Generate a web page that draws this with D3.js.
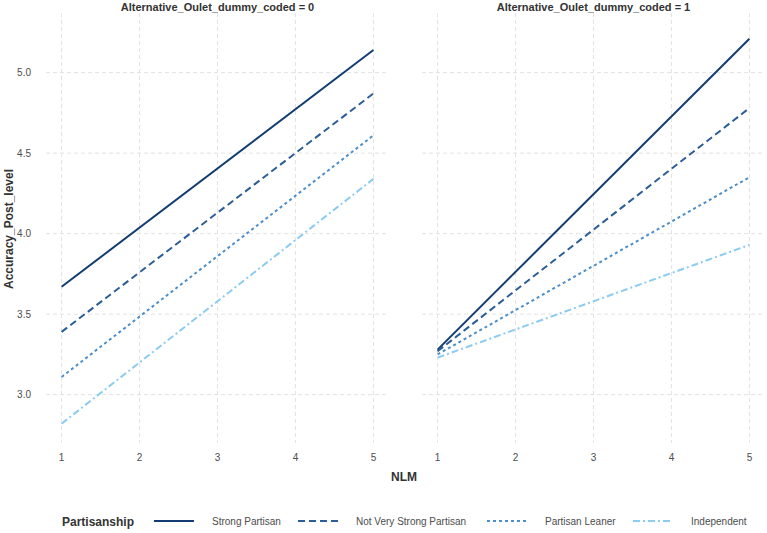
<!DOCTYPE html><html><head><meta charset="utf-8"><script src="https://cdn.jsdelivr.net/npm/d3@7"></script>
<style>body{margin:0;background:#fff}text{font-family:"Liberation Sans",Arial,sans-serif}</style></head><body><svg id="c" width="767" height="533"></svg>
<script>
const series=["Strong Partisan","Not Very Strong Partisan","Partisan Leaner","Independent"];
const panels=["Alternative_Oulet_dummy_coded = 0","Alternative_Oulet_dummy_coded = 1"];
const xEnds=[1,5];
const panel0Start=[3.67,3.39,3.11,2.82], panel0End=[5.14,4.87,4.61,4.34];
const panel1Start=[3.28,3.27,3.25,3.23], panel1End=[5.21,4.78,4.35,3.93];
const xTicks=[1,2,3,4,5], yTicks=[3.0,3.5,4.0,4.5,5.0];
const colors=["#123d73","#2b5d97","#4b8ec8","#8ccbf2"];
const dashes=[null,"7,4","3,3","7,3,2,3"];
const svg=d3.select("#c");
const y=d3.scaleLinear().domain([2.70,5.37]).range([443,13]);
const xs=[d3.scaleLinear().domain([0.8,5.2]).range([46,389]),d3.scaleLinear().domain([0.8,5.2]).range([422,765])];
const starts=[panel0Start,panel1Start], ends=[panel0End,panel1End];
xs.forEach((x,p)=>{
  const g=svg.append("g");
  yTicks.forEach(t=>g.append("line").attr("x1",x.range()[0]).attr("x2",x.range()[1]).attr("y1",y(t)).attr("y2",y(t)).attr("stroke","#e3e3e3").attr("stroke-dasharray","4,3"));
  xTicks.forEach(t=>g.append("line").attr("x1",x(t)).attr("x2",x(t)).attr("y1",13).attr("y2",443).attr("stroke","#e3e3e3").attr("stroke-dasharray","4,3"));
  xTicks.forEach(t=>g.append("text").attr("x",x(t)).attr("y",461).attr("text-anchor","middle").attr("font-size",10).attr("fill","#4d4d4d").text(t));
  g.append("text").attr("x",(x.range()[0]+x.range()[1])/2).attr("y",11).attr("text-anchor","middle").attr("font-size",11).attr("font-weight","bold").attr("fill","#333").text(panels[p]);
  const line=d3.line().x(d=>x(d[0])).y(d=>y(d[1]));
  series.forEach((s,i)=>g.append("path").attr("d",line([[xEnds[0],starts[p][i]],[xEnds[1],ends[p][i]]])).attr("fill","none").attr("stroke",colors[i]).attr("stroke-width",2).attr("stroke-dasharray",dashes[i]));
});
yTicks.forEach(t=>svg.append("text").attr("x",31).attr("y",y(t)+3.5).attr("text-anchor","end").attr("font-size",10).attr("fill","#4d4d4d").text(t.toFixed(1)));
svg.append("text").attr("transform","translate(13,229)rotate(-90)").attr("text-anchor","middle").attr("font-size",12).attr("font-weight","bold").attr("fill","#333").text("Accuracy_Post_level");
svg.append("text").attr("x",404).attr("y",481).attr("text-anchor","middle").attr("font-size",12).attr("font-weight","bold").attr("fill","#333").text("NLM");
svg.append("text").attr("x",62).attr("y",526).attr("font-size",12).attr("font-weight","bold").attr("fill","#333").text("Partisanship");
const lx=[154,298,487,633];
series.forEach((s,i)=>{
  svg.append("line").attr("x1",lx[i]).attr("x2",lx[i]+40).attr("y1",521).attr("y2",521).attr("stroke",colors[i]).attr("stroke-width",2).attr("stroke-dasharray",dashes[i]);
  svg.append("text").attr("x",lx[i]+58).attr("y",525).attr("font-size",10).attr("fill","#4d4d4d").text(s);
});
</script></body></html>
